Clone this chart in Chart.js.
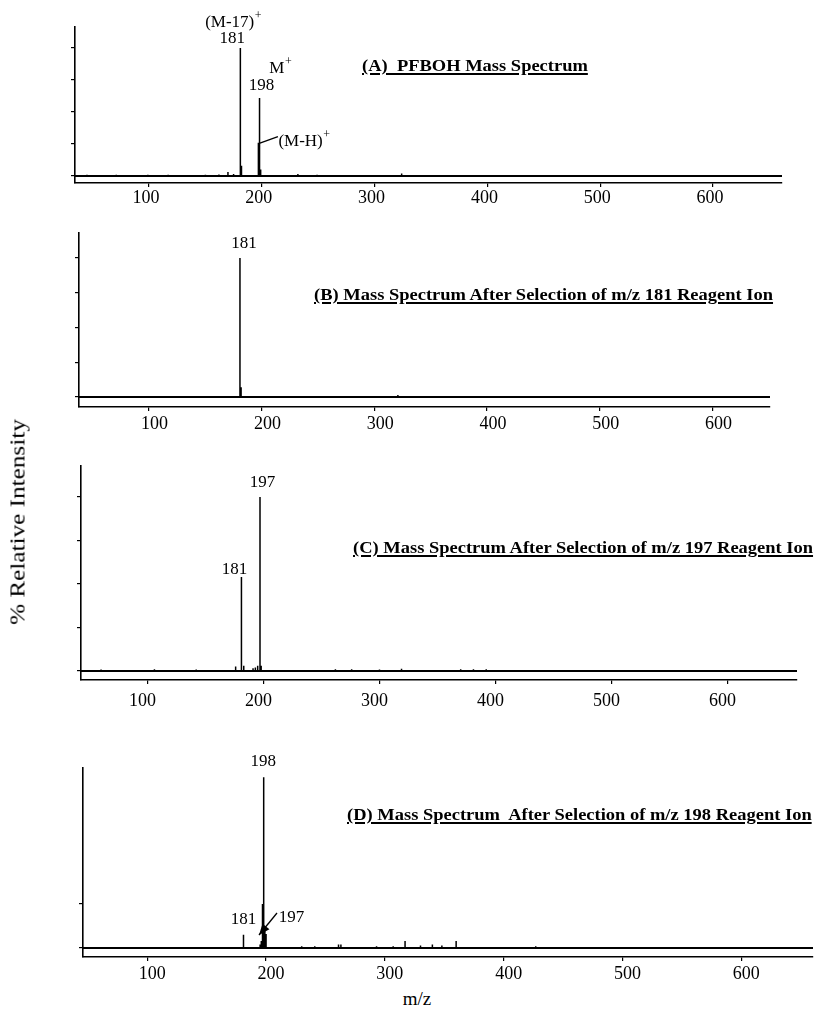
<!DOCTYPE html>
<html><head><meta charset="utf-8">
<script src="https://cdn.jsdelivr.net/npm/chart.js@4.4.1/dist/chart.umd.min.js"></script>
<style>
html,body{margin:0;padding:0;background:#fff;}
#wrap{position:relative;width:817px;height:1013px;overflow:hidden;background:#fff;}
canvas{position:absolute;left:0;}
.ttl{position:absolute;white-space:nowrap;font-family:"Liberation Serif","Times New Roman",serif;font-weight:bold;font-size:16.5px;text-decoration:underline;text-decoration-thickness:1.5px;text-underline-offset:2px;transform-origin:0 50%;transform:scaleX(1.12);line-height:20px;color:#000;}
#ylab{position:absolute;left:18px;top:522px;white-space:nowrap;font-family:"Liberation Serif","Times New Roman",serif;font-size:21px;transform:translate(-50%,-50%) rotate(-90deg) scaleX(1.2);color:#000;}
#xlab{position:absolute;left:417px;top:999px;white-space:nowrap;font-family:"Liberation Serif","Times New Roman",serif;font-size:19px;transform:translate(-50%,-50%);color:#000;}
</style></head><body>
<div id="wrap">
<canvas id="cA" width="817" height="215" style="top:0px"></canvas>
<canvas id="cB" width="817" height="230" style="top:215px"></canvas>
<canvas id="cC" width="817" height="280" style="top:445px"></canvas>
<canvas id="cD" width="817" height="260" style="top:725px"></canvas>
<div class="ttl" style="left:362px;top:56px">(A)&nbsp; PFBOH Mass Spectrum</div>
<div class="ttl" style="left:314px;top:285px">(B) Mass Spectrum After Selection of m/z 181 Reagent Ion</div>
<div class="ttl" style="left:353px;top:538px">(C) Mass Spectrum After Selection of m/z 197 Reagent Ion</div>
<div class="ttl" style="left:347px;top:805px">(D) Mass Spectrum&nbsp; After Selection of m/z 198 Reagent Ion</div>
<div id="ylab">% Relative Intensity</div>
<div id="xlab">m/z</div>
</div>
<script>
// ---------- data ----------
const xTickValues = [100, 200, 300, 400, 500, 600];
const yTickValues = [0, 25, 50, 75, 100];
const yTickValuesD = [0, 25];

// (A) PFBOH mass spectrum
const mzA  = [45, 71, 99, 117, 150, 162, 170, 175, 181, 182, 197, 198, 199, 232, 249, 275, 324, 380, 430];
const intA = [1, 1, 1, 1, 1, 1.2, 3, 1.5, 100, 8, 26, 61, 5, 1.5, 1, 0.8, 2, 0.8, 0.8];

// (B) after selection of m/z 181
const mzB  = [120, 181, 182, 250, 321, 480];
const intB = [0.5, 100, 7, 0.5, 1.5, 0.5];

// (C) after selection of m/z 197
const mzC  = [60, 106, 142, 176, 181, 183, 191, 193, 195, 197, 198, 262, 276, 300, 319, 370, 381, 392, 420, 450];
const intC = [0.8, 1, 0.8, 2.5, 54, 3, 1.5, 2, 3, 100, 3, 1, 1, 0.8, 1.3, 1, 1, 1, 0.6, 0.6];

// (D) after selection of m/z 198
const mzD  = [181, 195, 196, 197, 198, 199, 200, 230, 241, 261, 263, 293, 307, 317, 330, 340, 348, 360, 427];
const intD = [7.5, 2, 4, 25, 97, 10, 8, 1, 1, 2, 2, 1, 1, 4, 1.5, 2, 1.5, 4, 1];

// peak annotations (text, anchor m/z, anchor intensity)
const notesA = [
  {t:'(M-17)', sup:'+', mz:181, v:100, dx:-7, dy:-25},
  {t:'181', mz:181, v:100, dx:-8, dy:-9},
  {t:'M', sup:'+', mz:198, v:61, dx:21, dy:-29},
  {t:'198', mz:198, v:61, dx:2, dy:-12},
  {t:'(M-H)', sup:'+', mz:197, v:26, dx:20, dy:-1, align:'left', leader:[1.5,0.5,19.5,-6]}
];
const notesB = [ {t:'181', mz:181, v:100, dx:4, dy:-14} ];
const notesC = [
  {t:'197', mz:197, v:100, dx:2.5, dy:-14},
  {t:'181', mz:181, v:54, dx:-7, dy:-7}
];
const notesD = [
  {t:'198', mz:198, v:97, dx:-0.5, dy:-15.5},
  {t:'181', mz:181, v:7.5, dx:0, dy:-15},
  {t:'197', mz:197, v:0, dx:29, dy:-30, arrow:[14.5,-35,-3.5,-13]}
];

// ---------- drawing ----------
Chart.defaults.font.family = '"Liberation Serif","Times New Roman",serif';
Chart.defaults.color = '#000';

function stickPoints(mz, inten, xmin, xmax) {
  const idx = mz.map((m, i) => i).sort((a, b) => mz[a] - mz[b]);
  const pts = [{x: xmin, y: 0}];
  idx.forEach(i => { pts.push({x: mz[i], y: 0}, {x: mz[i], y: inten[i]}, {x: mz[i], y: 0}); });
  pts.push({x: xmax, y: 0});
  return pts;
}

const notesMap = {cA: notesA, cB: notesB, cC: notesC, cD: notesD};

function drawText(ctx, n, x, y) {
  const main = '17px "Liberation Serif", serif', sup = '12px "Liberation Serif", serif';
  ctx.font = main; const w1 = ctx.measureText(n.t).width;
  let w2 = 0;
  if (n.sup) { ctx.font = sup; w2 = ctx.measureText(n.sup).width + 0.5; }
  const x0 = n.align === 'left' ? x : x - (w1 + w2) / 2;
  ctx.textAlign = 'left'; ctx.textBaseline = 'middle';
  ctx.font = main; ctx.fillText(n.t, x0, y);
  if (n.sup) { ctx.font = sup; ctx.fillText(n.sup, x0 + w1 + 0.5, y - 7); }
}

const notesPlugin = {
  id: 'peakNotes',
  afterDatasetsDraw(chart) {
    const items = notesMap[chart.canvas.id] || [];
    const ctx = chart.ctx, xs = chart.scales.x, ys = chart.scales.y;
    ctx.save();
    ctx.fillStyle = '#000'; ctx.strokeStyle = '#000';
    items.forEach(n => {
      const px = xs.getPixelForValue(n.mz), py = ys.getPixelForValue(n.v);
      drawText(ctx, n, px + n.dx, py + n.dy);
      if (n.leader) {
        ctx.lineWidth = 1.3; ctx.beginPath();
        ctx.moveTo(px + n.leader[0], py + n.leader[1]);
        ctx.lineTo(px + n.leader[2], py + n.leader[3]); ctx.stroke();
      }
      if (n.arrow) {
        const x1 = px + n.arrow[0], y1 = py + n.arrow[1], x2 = px + n.arrow[2], y2 = py + n.arrow[3];
        ctx.lineWidth = 1.3; ctx.beginPath(); ctx.moveTo(x1, y1); ctx.lineTo(x2, y2); ctx.stroke();
        const a = Math.atan2(y2 - y1, x2 - x1), L = 11, W = 4.5;
        ctx.beginPath(); ctx.moveTo(x2, y2);
        ctx.lineTo(x2 - L * Math.cos(a) + W * Math.sin(a), y2 - L * Math.sin(a) - W * Math.cos(a));
        ctx.lineTo(x2 - L * Math.cos(a) - W * Math.sin(a), y2 - L * Math.sin(a) + W * Math.cos(a));
        ctx.closePath(); ctx.fill();
      }
    });
    ctx.restore();
  }
};

function makePanel(id, mz, inten, cfg) {
  const canvas = document.getElementById(id);
  const H = canvas.height, W = canvas.width;
  const yW = 8;
  new Chart(canvas, {
    type: 'line',
    data: {
      datasets: [
        {data: [{x: cfg.xmin, y: 0}, {x: cfg.xmax, y: 0}], borderColor: '#000', borderWidth: 2, pointRadius: 0, tension: 0},
        {data: stickPoints(mz, inten, cfg.xmin, cfg.xmax), borderColor: '#000', borderWidth: 1.5, pointRadius: 0, tension: 0}
      ]
    },
    options: {
      responsive: false, animation: false, events: [],
      devicePixelRatio: 1,
      layout: {padding: {left: cfg.L - yW, right: W - cfg.R, top: cfg.T - cfg.top, bottom: H - (cfg.B - cfg.top) - cfg.xH}},
      plugins: {legend: {display: false}, tooltip: {enabled: false}},
      scales: {
        x: {
          type: 'linear', min: cfg.xmin, max: cfg.xmax,
          afterBuildTicks: s => { s.ticks = xTickValues.map(v => ({value: v})); },
          afterFit: s => { s.height = cfg.xH; },
          grid: {display: true, drawOnChartArea: false, drawTicks: true, tickLength: 4, color: '#000', lineWidth: 1.2},
          border: {display: true, color: '#000', width: 1.6},
          ticks: {font: {size: 18}, color: '#000', padding: cfg.tickPad, labelOffset: cfg.labelOffset, maxRotation: 0, autoSkip: false}
        },
        y: {
          type: 'linear', min: cfg.ymin, max: cfg.ymax,
          afterBuildTicks: s => { s.ticks = cfg.yTicks.map(v => ({value: v})); },
          afterFit: s => { s.width = yW; },
          grid: {display: true, drawOnChartArea: false, drawTicks: true, tickLength: 4, color: '#000', lineWidth: 1.2},
          border: {display: true, color: '#000', width: 1.6},
          ticks: {callback: () => '', padding: 0}
        }
      }
    },
    plugins: [notesPlugin]
  });
}

makePanel('cA', mzA, intA, {top: 0, L: 75, R: 782, T: 27, B: 183, xH: 30, xmin: 34.4, xmax: 661.2, ymin: -5.5, ymax: 116.4, yTicks: yTickValues, tickPad: 0, labelOffset: -3});
makePanel('cB', mzB, intB, {top: 215, L: 79, R: 770, T: 233, B: 407, xH: 30, xmin: 38.3, xmax: 650.9, ymin: -7.2, ymax: 118, yTicks: yTickValues, tickPad: 2, labelOffset: 6});
makePanel('cC', mzC, intC, {top: 445, L: 81, R: 797, T: 466, B: 680, xH: 35, xmin: 42.7, xmax: 659.9, ymin: -5.2, ymax: 117.8, yTicks: yTickValues, tickPad: 6, labelOffset: -5});
makePanel('cD', mzD, intD, {top: 725, L: 83, R: 813, T: 768, B: 957, xH: 28, xmin: 45.9, xmax: 660.4, ymin: -5.1, ymax: 102.3, yTicks: yTickValuesD, tickPad: 2, labelOffset: 5});
</script>
</body></html>
